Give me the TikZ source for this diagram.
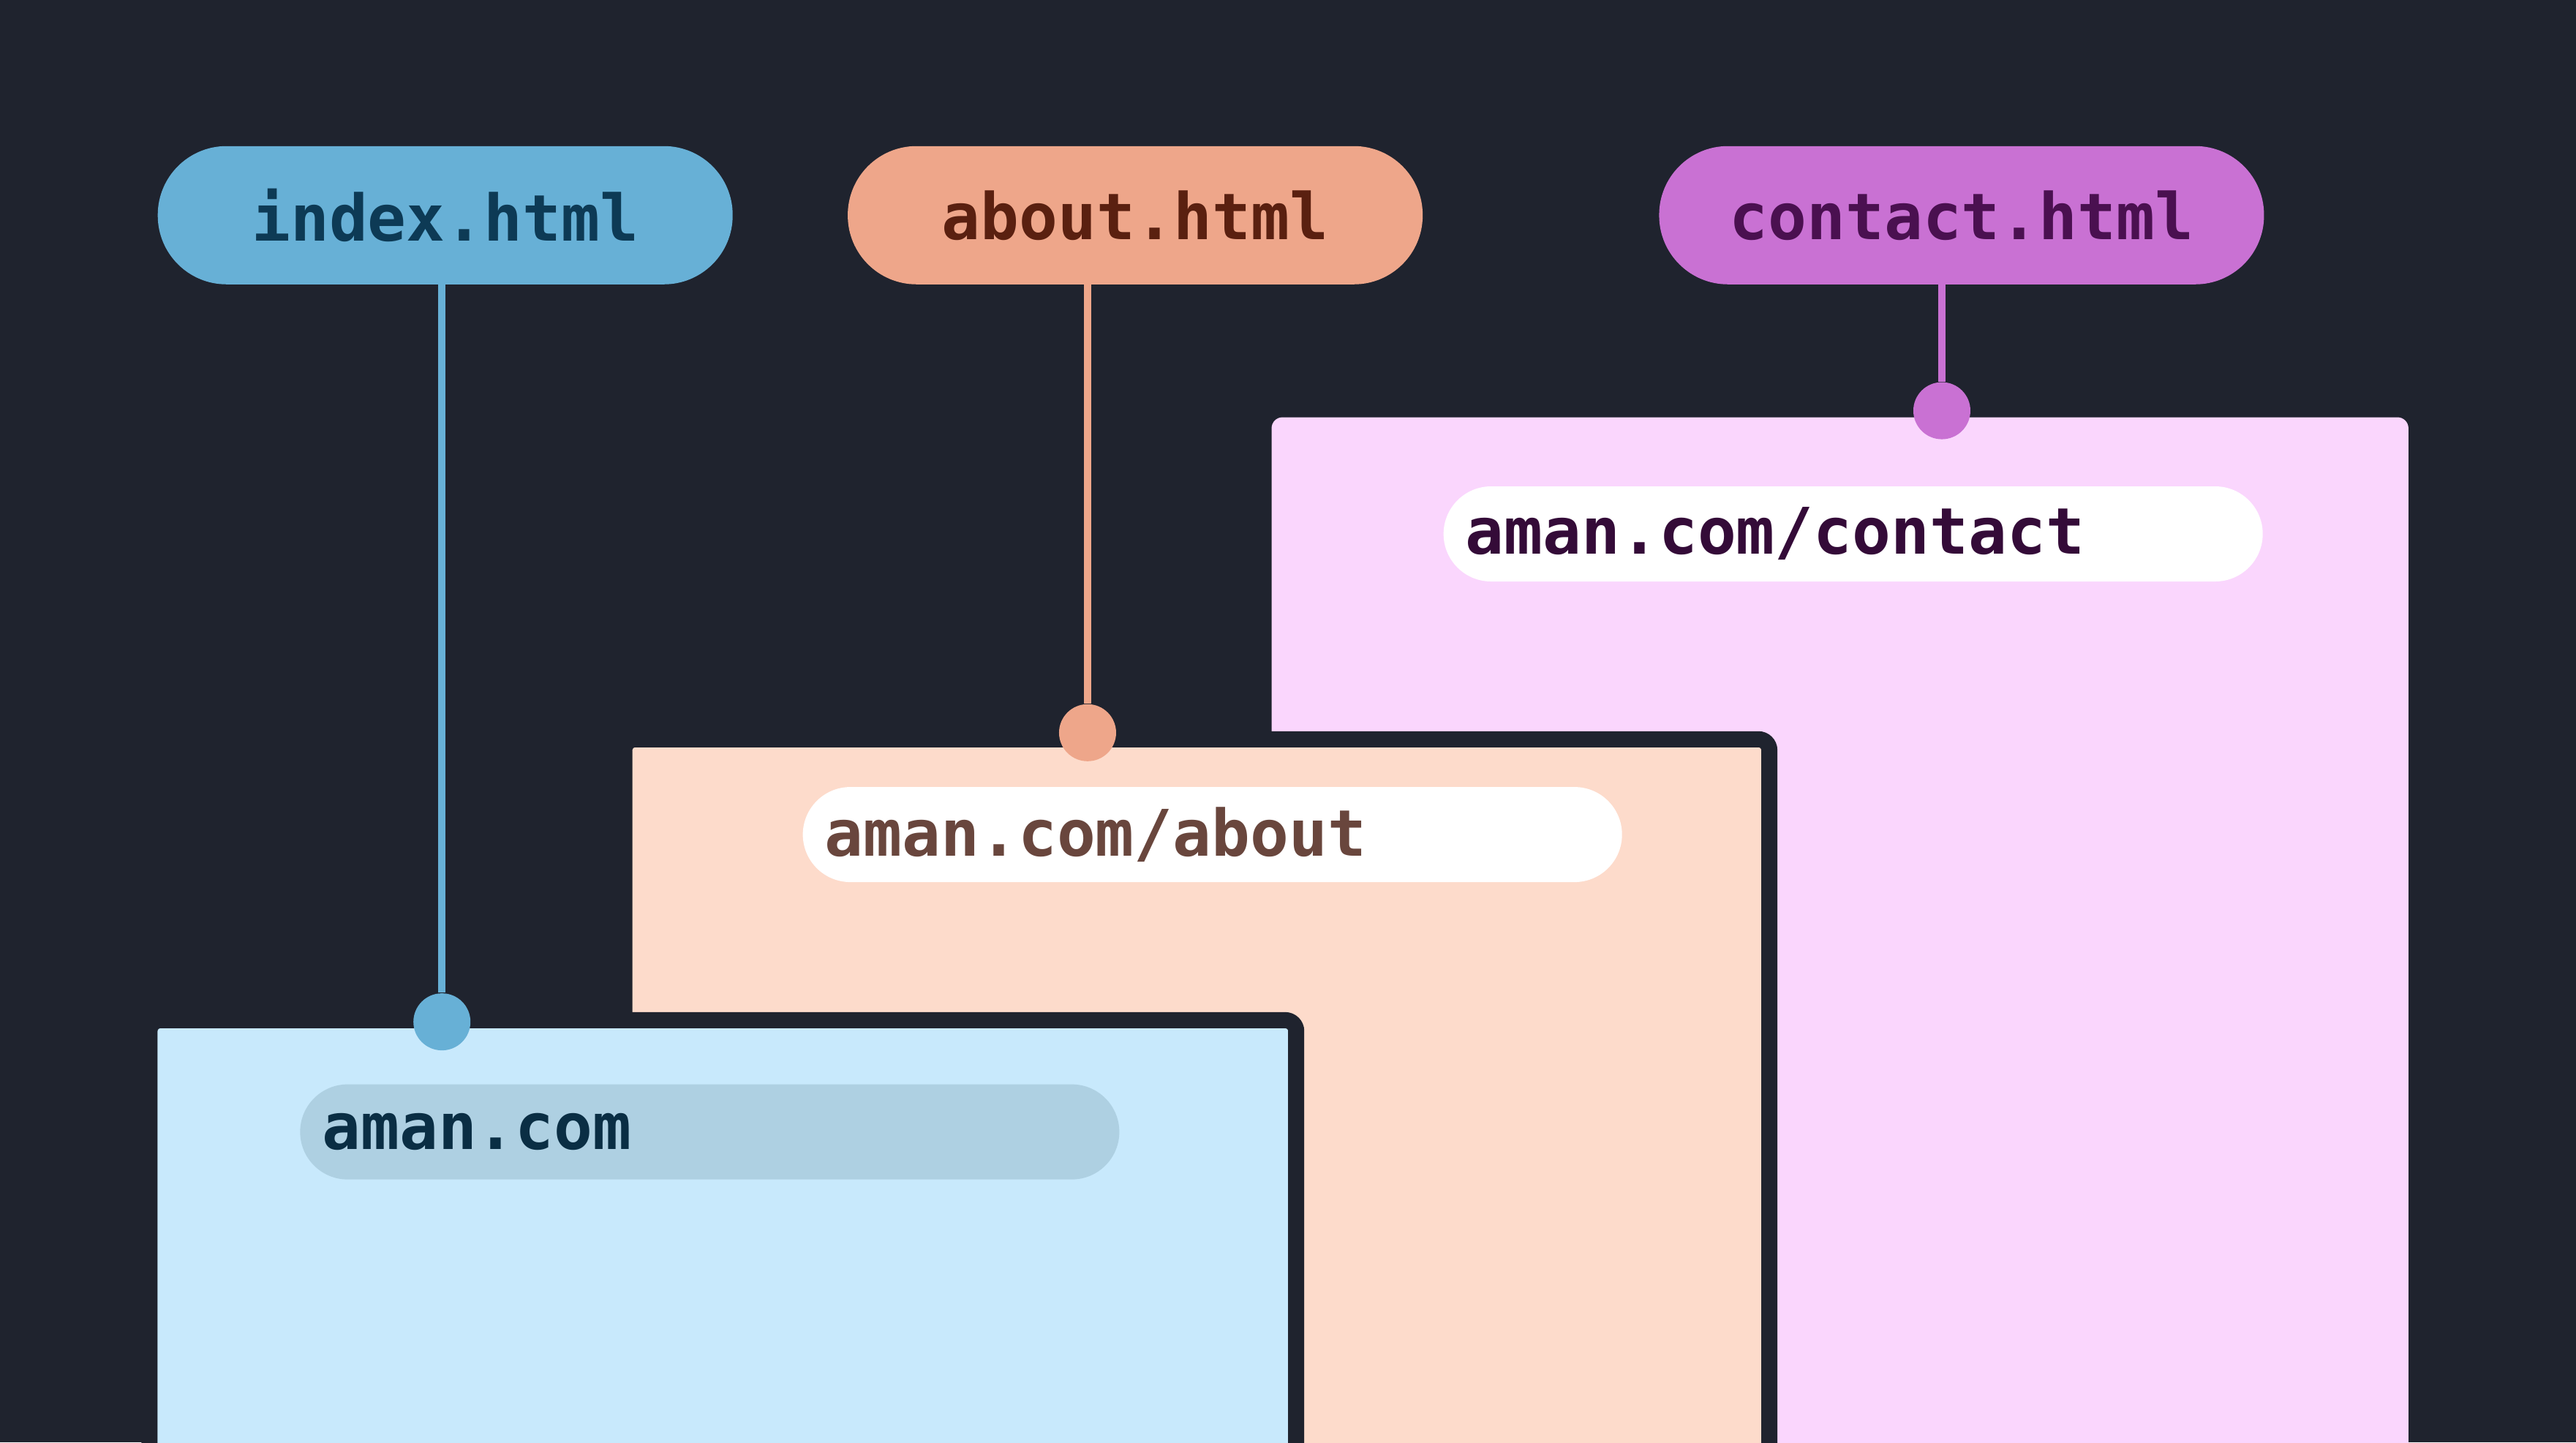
\documentclass[tikz,border=0pt]{standalone}
\usepackage{fontspec}
\setmonofont{DejaVu Sans Mono}
\definecolor{bgc}{HTML}{1F232E}
\definecolor{blueP}{HTML}{67B0D6}
\definecolor{blueT}{HTML}{0D3A55}
\definecolor{orP}{HTML}{EEA68A}
\definecolor{orT}{HTML}{5A2010}
\definecolor{viP}{HTML}{C971D3}
\definecolor{viT}{HTML}{4A1050}
\definecolor{viPanel}{HTML}{FAD6FD}
\definecolor{orPanel}{HTML}{FDDBCB}
\definecolor{bluePanel}{HTML}{C8E9FC}
\definecolor{blueUrl}{HTML}{AED0E2}
\tikzset{
  tag/.style={rounded corners=0.94cm, minimum height=1.89cm, minimum width=7.86cm,
    inner sep=0pt, font=\ttfamily\bfseries\fontsize{25}{25}\selectfont},
  url/.style={rounded corners=0.65cm, minimum height=1.3cm, minimum width=11.2cm,
    inner sep=0pt, text width=10.6cm, align=left, font=\ttfamily\bfseries\fontsize{25}{25}\selectfont},
  panel/.style={rounded corners=0.15cm, draw=bgc, line width=0.22cm},
  dot/.style={circle, inner sep=0pt, minimum size=0.78cm},
}
\begin{document}
\begin{tikzpicture}[x=0.02246cm, y=-0.02246cm]
  \fill[bgc] (0,0) rectangle (1568,878);
  \useasboundingbox (0,0) rectangle (1568,878);
  % tags
  \node[tag, fill=blueP, text=blueT, minimum width=7.86cm] (tindex) at (271,131) {index.html};
  \node[tag, fill=orP, text=orT] (tabout) at (691,131) {about.html};
  \node[tag, fill=viP, text=viT, minimum width=8.27cm] (tcontact) at (1194,131) {contact.html};
  % panels
  \begin{scope}
    \clip (0,0) rectangle (1568,878);
    \fill[viPanel, rounded corners=0.15cm] (774,254) rectangle (1466,900);
    \filldraw[panel, fill=orPanel] (380,450) rectangle (1077,920);
    \filldraw[panel, fill=bluePanel] (91,621) rectangle (789,920);
  \end{scope}
  % urls
  \node[url, fill=white, text=viT!70!black] (ucontact) at (1128,325) {aman.com/contact};
  \node[url, fill=white, text=orT!60!gray] (uabout) at (738,508) {aman.com/about};
  \node[url, fill=blueUrl, text=blueT!80!black] (uindex) at (432,689) {aman.com};
  % stems
  \node[dot, fill=blueP] (dindex) at (269,622) {};
  \node[dot, fill=orP] (dabout) at (662,446) {};
  \node[dot, fill=viP] (dcontact) at (1182,250) {};
  \draw[blueP, line width=0.1cm] (tindex.south -| dindex) -- (dindex);
  \draw[orP, line width=0.1cm] (tabout.south -| dabout) -- (dabout);
  \draw[viP, line width=0.1cm] (tcontact.south -| dcontact) -- (dcontact);
\end{tikzpicture}
\end{document}
